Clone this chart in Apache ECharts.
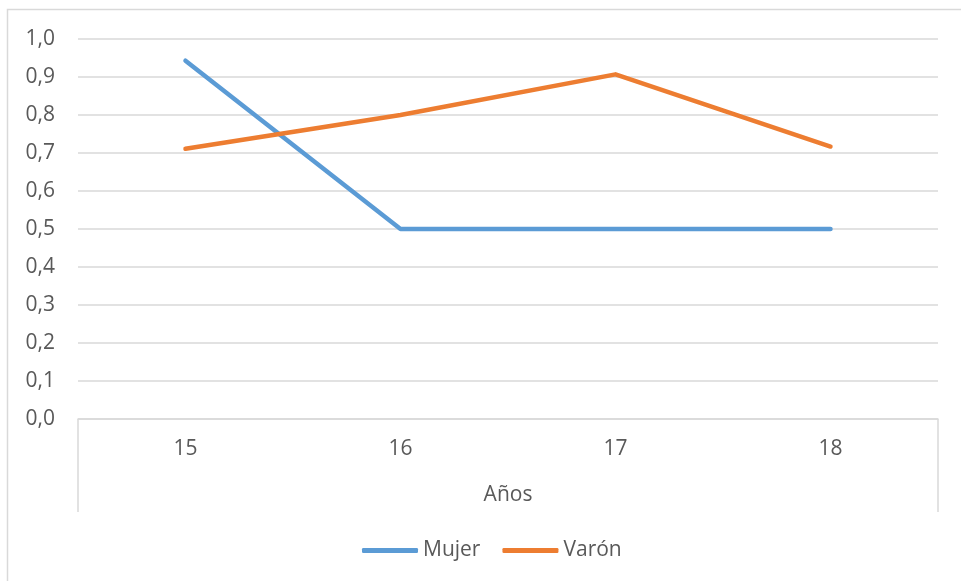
<!DOCTYPE html>
<html>
<head>
<meta charset="utf-8">
<script src="https://cdn.jsdelivr.net/npm/echarts@6/dist/echarts.min.js"></script>
<style>
html,body{margin:0;padding:0;background:#fff;}
#c{width:961px;height:581px;}
</style>
</head>
<body>
<div id="c"></div>
<script>
const categories = ['15', '16', '17', '18'];
const mujer = [0.943, 0.5, 0.5, 0.5];
const varon = [0.711, 0.8, 0.907, 0.717];
const axisTitle = 'Años';
const seriesNames = ['Mujer', 'Varón'];

const FONT = '"Open Sans", "Noto Sans", sans-serif';
const TXT = '#595959';
const GRIDC = '#d9d9d9';
const FS = 21;

const chart = echarts.init(document.getElementById('c'));
chart.setOption({
  backgroundColor: '#fff',
  animation: false,
  textStyle: { fontFamily: FONT, color: TXT },
  graphic: [{
    type: 'rect',
    shape: { x: 7.5, y: 9.5, width: 1200, height: 1200 },
    style: { fill: 'none', stroke: GRIDC, lineWidth: 1.5 },
    silent: true
  }],
  grid: { left: 78, right: 23, top: 39, bottom: 162 },
  legend: {
    top: 535,
    left: 357,
    itemWidth: 56,
    itemHeight: 5,
    itemGap: 22,
    icon: 'roundRect',
    textStyle: { fontFamily: FONT, fontSize: FS, color: TXT },
    data: seriesNames
  },
  xAxis: [{
    type: 'category',
    data: categories,
    boundaryGap: true,
    axisLine: { show: true, lineStyle: { color: GRIDC, width: 1.5 } },
    axisTick: { show: false },
    axisLabel: { margin: 20, fontSize: FS, color: TXT, fontFamily: FONT }
  }, {
    type: 'category',
    data: [axisTitle],
    position: 'bottom',
    boundaryGap: true,
    axisLine: { show: false },
    axisTick: { show: true, length: 93, lineStyle: { color: GRIDC, width: 1.5 } },
    axisLabel: { margin: 66, fontSize: FS, color: TXT, fontFamily: FONT },
    splitLine: { show: false }
  }],
  yAxis: {
    type: 'value',
    min: 0,
    max: 1,
    interval: 0.1,
    axisLine: { show: false },
    axisTick: { show: false },
    splitLine: { lineStyle: { color: GRIDC, width: 1.5 } },
    axisLabel: {
      margin: 23,
      fontSize: FS,
      color: TXT,
      fontFamily: FONT,
      formatter: v => v.toFixed(1).replace('.', ',')
    }
  },
  series: [{
    name: seriesNames[0],
    type: 'line',
    data: mujer,
    symbol: 'none',
    itemStyle: { color: '#5B9BD5' },
    lineStyle: { color: '#5B9BD5', width: 4.5, cap: 'round', join: 'round' }
  }, {
    name: seriesNames[1],
    type: 'line',
    data: varon,
    symbol: 'none',
    itemStyle: { color: '#ED7D31' },
    lineStyle: { color: '#ED7D31', width: 4.5, cap: 'round', join: 'round' }
  }]
});
</script>
</body>
</html>
